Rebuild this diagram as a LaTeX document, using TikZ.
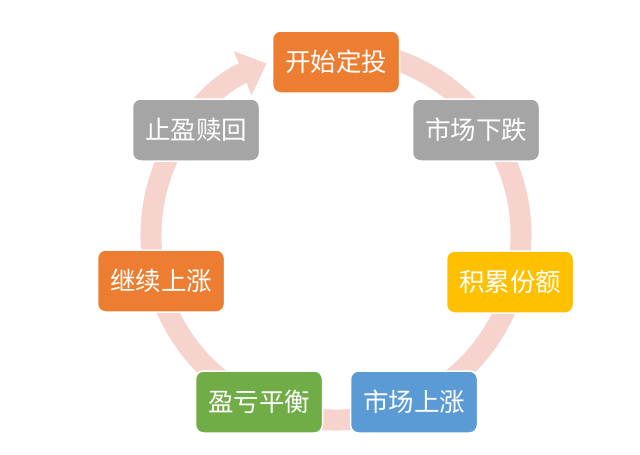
\documentclass[tikz,border=0pt]{standalone}
\usepackage{fontspec}
\setmainfont{Noto Sans CJK SC}
\usetikzlibrary{arrows.meta}
\definecolor{ringpink}{RGB}{246,212,205}
\definecolor{stepor}{RGB}{237,125,49}
\definecolor{stepgr}{RGB}{165,165,165}
\definecolor{stepye}{RGB}{255,192,0}
\definecolor{stepbl}{RGB}{91,155,213}
\definecolor{stepgn}{RGB}{112,173,71}

\begin{document}
\begin{tikzpicture}[x=1pt,y=-1pt,font=\fontsize{25.5}{28}\selectfont,
  stepbox/.style={draw=white,line width=1.5pt,rounded corners=8pt,text=white,
    minimum width=127pt,minimum height=62pt,inner sep=2pt}]
  \useasboundingbox (0,0) rectangle (640,455);
  % ring with arrow (y points down, so angles run clockwise)
  \coordinate (o) at (336,235);
  \draw[ringpink,line width=21pt,-{Triangle[length=26pt,width=46pt]}]
    ([shift={(-75:185)}]o) arc[start angle=-75,end angle=248,radius=185];

  \node[stepbox,fill=stepor] (start)  at (336,62)  {开始定投};
  \node[stepbox,fill=stepgr] (fall)   at (476,130) {市场下跌};
  \node[stepbox,fill=stepye] (accum)  at (510,282) {积累份额};
  \node[stepbox,fill=stepbl] (rise)   at (414,402) {市场上涨};
  \node[stepbox,fill=stepgn] (even)   at (259,402) {盈亏平衡};
  \node[stepbox,fill=stepor] (cont)   at (161,281) {继续上涨};
  \node[stepbox,fill=stepgr] (redeem) at (196,130) {止盈赎回};
\end{tikzpicture}
\end{document}
